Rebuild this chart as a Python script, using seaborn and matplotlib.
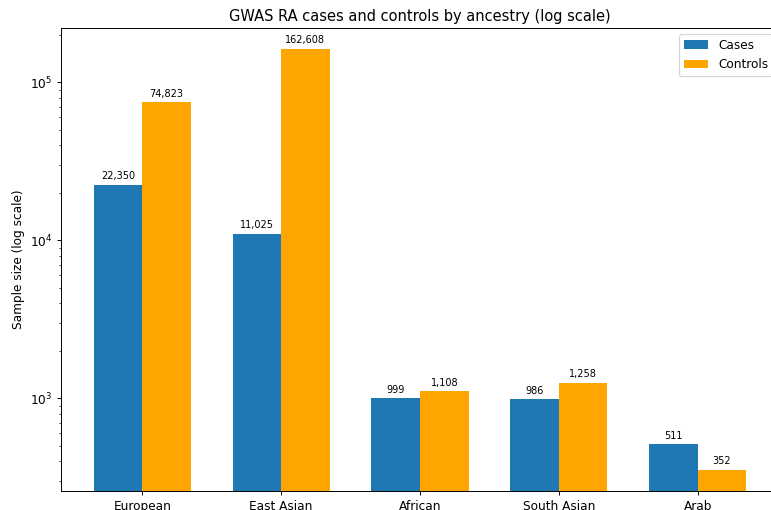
import matplotlib
matplotlib.use("Agg")
import matplotlib.pyplot as plt
import seaborn as sns
import pandas as pd

ancestries = ["European", "East Asian", "African", "South Asian", "Arab"]
cases = [22350, 11025, 999, 986, 511]
controls = [74823, 162608, 1108, 1258, 352]
groups = ["Cases", "Controls"]
colors = ["#1f77b4", "#ffa500"]

df = pd.DataFrame({
    "Ancestry": ancestries * 2,
    "Group": [groups[0]] * len(ancestries) + [groups[1]] * len(ancestries),
    "N": cases + controls,
})

DPI = 87.5
W, H = 771, 510
fig = plt.figure(figsize=(W / DPI, H / DPI), dpi=DPI)
ax = fig.add_axes([61 / W, 19 / H, 718 / W, 463 / H])

sns.barplot(data=df, x="Ancestry", y="N", hue="Group", palette=colors,
            width=0.7, saturation=1, errorbar=None, ax=ax, order=ancestries,
            hue_order=groups)
ax.set_yscale("log")
ax.set_xlim(-0.585, len(ancestries) - 1 + 0.585)
ax.set_ylim(10 ** 2.413, 10 ** 5.344)

for container in ax.containers:
    for bar in container:
        h = bar.get_height()
        ax.annotate(f"{int(round(h)):,}", (bar.get_x() + bar.get_width() / 2, h),
                    xytext=(0, 3), textcoords="offset points",
                    ha="center", va="bottom", fontsize=8)

ax.set_title("GWAS RA cases and controls by ancestry (log scale)", fontsize=12)
ax.set_ylabel("Sample size (log scale)", fontsize=10)
ax.set_xlabel("")
ax.legend(loc="upper right", fontsize=10)

fig.savefig("out.png", dpi=DPI)
